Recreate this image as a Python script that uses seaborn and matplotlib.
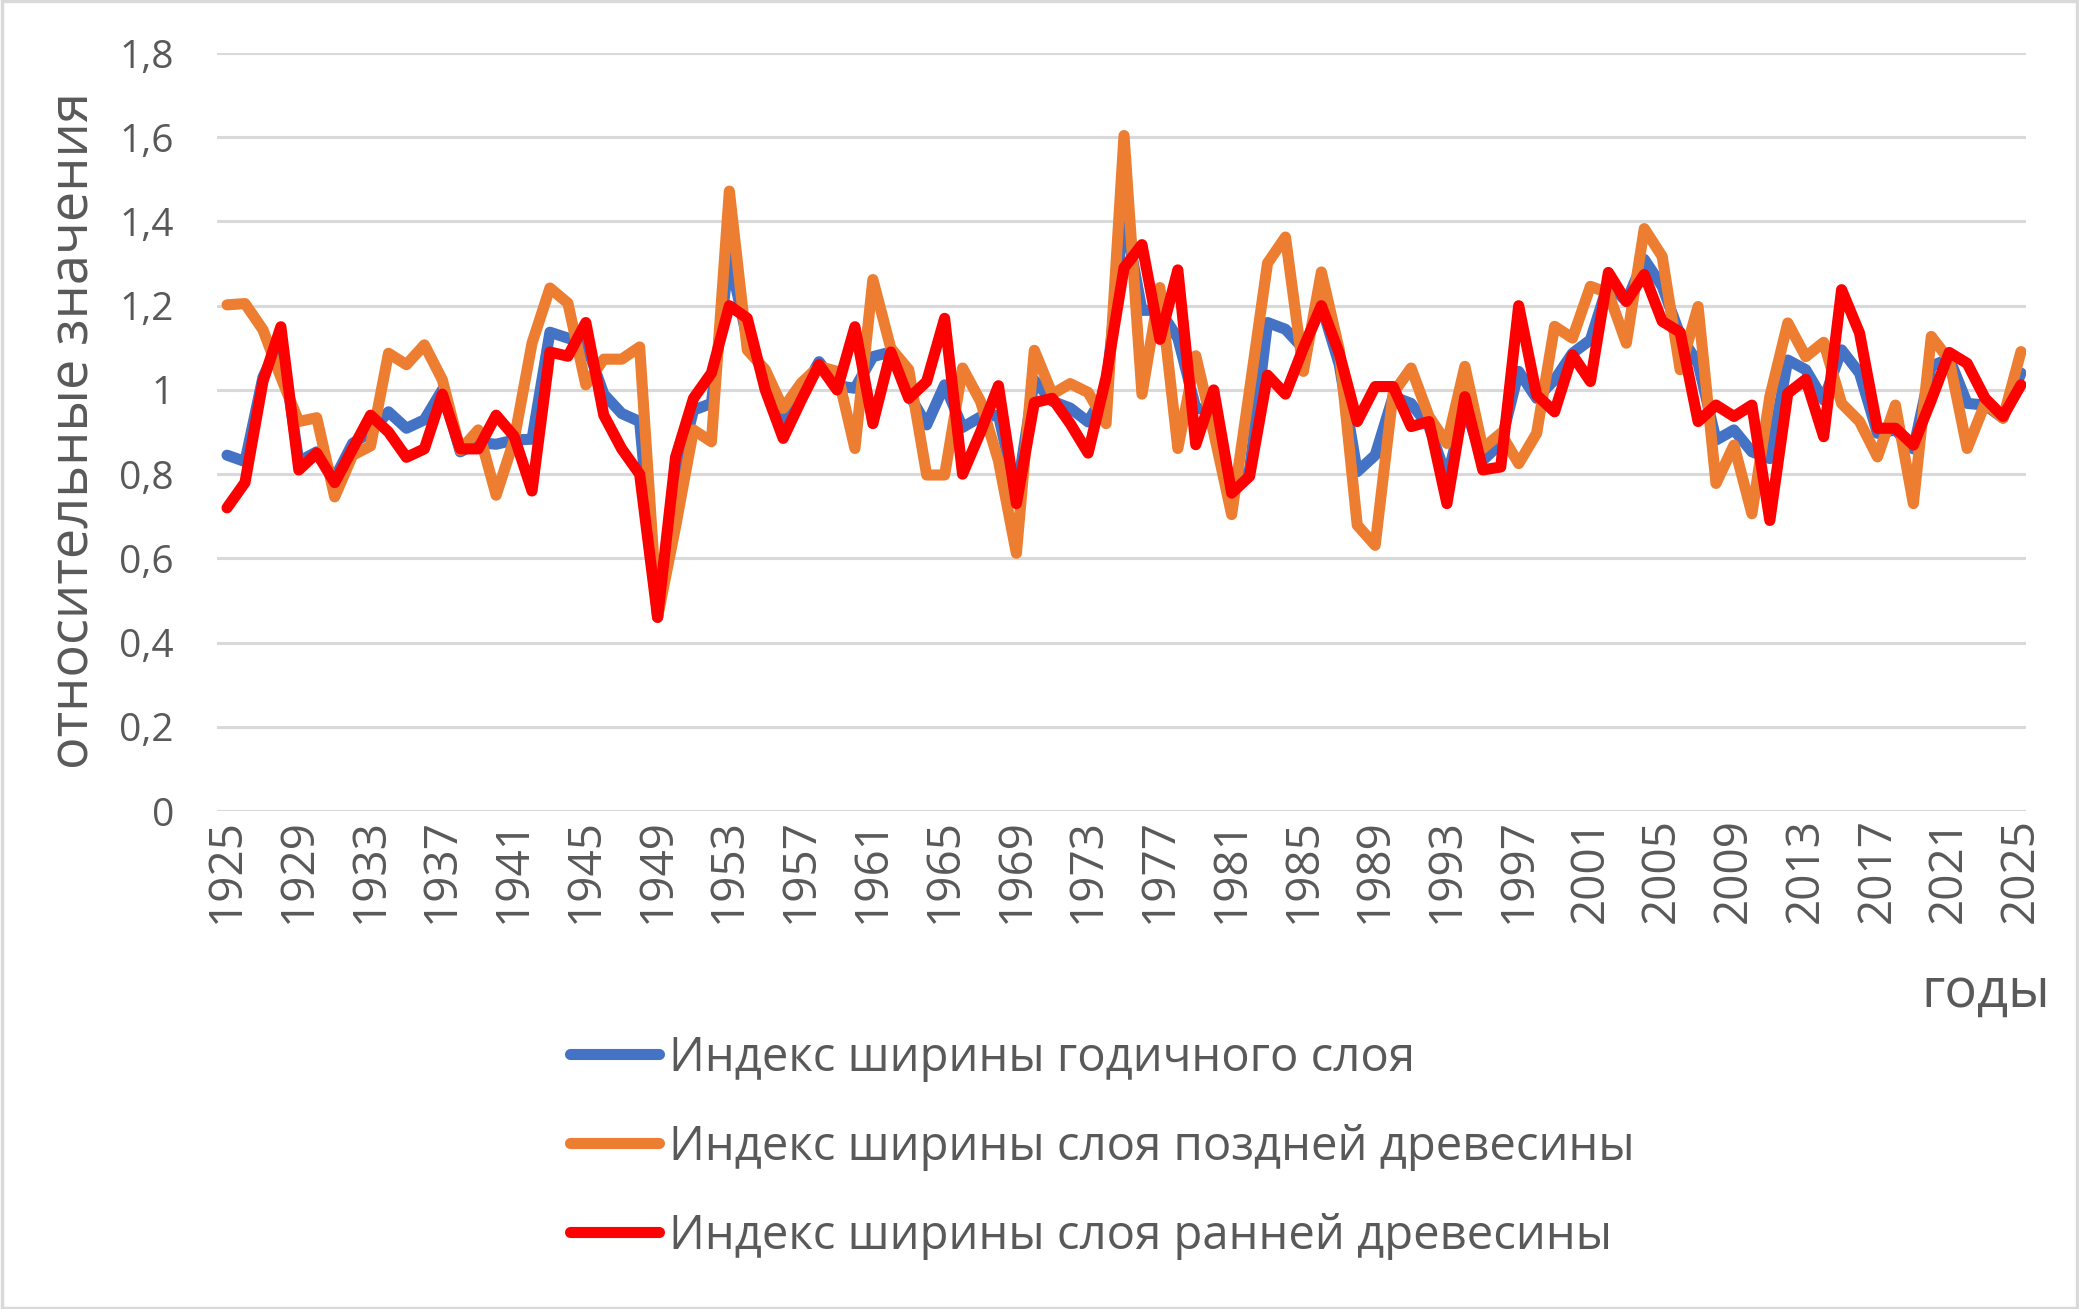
import numpy as np
import pandas as pd
import matplotlib
matplotlib.use("Agg")
import matplotlib.pyplot as plt
import seaborn as sns
from matplotlib.patches import Rectangle

years = list(range(1925, 2026))

# Индекс ширины годичного слоя
ring = [0.845, 0.83, 1.03, 1.12, 0.83, 0.853, 0.79, 0.873, 0.90, 0.948,
        0.909, 0.929, 1.00, 0.853, 0.875, 0.871, 0.881, 0.883, 1.137, 1.123,
        1.11, 0.99, 0.944, 0.925, 0.46, 0.78, 0.952, 0.968, 1.317, 1.12,
        1.03, 0.929, 0.99, 1.067, 1.01, 1.004, 1.079, 1.09, 0.99, 0.917,
        1.012, 0.911, 0.936, 0.94, 0.75, 1.023, 0.973, 0.957, 0.924, 1.00,
        1.42, 1.189, 1.189, 1.123, 0.957, 0.95, 0.76, 0.81, 1.16, 1.144,
        1.098, 1.20, 1.06, 0.806, 0.845, 0.984, 0.968, 0.913, 0.79, 0.96,
        0.833, 0.873, 1.044, 0.98, 1.024, 1.087, 1.119, 1.254, 1.21, 1.31,
        1.246, 1.13, 1.063, 0.881, 0.905, 0.853, 0.837, 1.071, 1.048, 0.976,
        1.095, 1.04, 0.897, 0.905, 0.86, 1.056, 1.075, 0.968, 0.964, 0.933,
        1.04]

# Индекс ширины слоя поздней древесины
late = [1.202, 1.205, 1.143, 1.03, 0.925, 0.934, 0.746, 0.845, 0.867, 1.087,
        1.06, 1.107, 1.024, 0.857, 0.905, 0.75, 0.881, 1.111, 1.242, 1.206,
        1.012, 1.073, 1.073, 1.102, 0.46, 0.675, 0.905, 0.877, 1.472, 1.095,
        1.048, 0.956, 1.016, 1.056, 1.044, 0.861, 1.262, 1.099, 1.048, 0.798,
        0.798, 1.052, 0.973, 0.832, 0.612, 1.094, 0.99, 1.015, 0.994, 0.92,
        1.604, 0.99, 1.243, 0.861, 1.081, 0.899, 0.704, 1.00, 1.301, 1.363,
        1.044, 1.28, 1.095, 0.679, 0.631, 0.992, 1.052, 0.937, 0.873, 1.056,
        0.861, 0.897, 0.825, 0.897, 1.151, 1.123, 1.246, 1.23, 1.111, 1.383,
        1.317, 1.048, 1.198, 0.778, 0.869, 0.706, 0.984, 1.159, 1.079, 1.113,
        0.968, 0.925, 0.841, 0.964, 0.73, 1.127, 1.071, 0.861, 0.968, 0.933,
        1.091]

# Индекс ширины слоя ранней древесины
early = [0.72, 0.78, 1.02, 1.15, 0.81, 0.85, 0.78, 0.86, 0.94, 0.90,
         0.84, 0.86, 0.99, 0.86, 0.86, 0.94, 0.89, 0.76, 1.09, 1.08,
         1.16, 0.94, 0.86, 0.80, 0.46, 0.84, 0.98, 1.04, 1.20, 1.17,
         1.00, 0.885, 0.975, 1.06, 1.00, 1.15, 0.92, 1.09, 0.98, 1.02,
         1.17, 0.80, 0.90, 1.01, 0.73, 0.97, 0.98, 0.92, 0.85, 1.03,
         1.29, 1.345, 1.12, 1.285, 0.87, 1.00, 0.755, 0.795, 1.035, 0.99,
         1.10, 1.20, 1.087, 0.925, 1.008, 1.008, 0.913, 0.925, 0.73, 0.984,
         0.81, 0.817, 1.20, 0.988, 0.948, 1.083, 1.02, 1.279, 1.21, 1.274,
         1.163, 1.137, 0.925, 0.964, 0.937, 0.964, 0.69, 0.992, 1.025, 0.889,
         1.238, 1.135, 0.909, 0.909, 0.869, 0.976, 1.089, 1.063, 0.98, 0.937,
         1.012]

series_labels = ["Индекс ширины годичного слоя",
                 "Индекс ширины слоя поздней древесины",
                 "Индекс ширины слоя ранней древесины"]
series_colors = ["#4472C4", "#ED7D31", "#FF0000"]

yticks = [0, 0.2, 0.4, 0.6, 0.8, 1.0, 1.2, 1.4, 1.6, 1.8]
ytick_labels = ["0", "0,2", "0,4", "0,6", "0,8", "1", "1,2", "1,4", "1,6", "1,8"]
xticks = list(range(1925, 2026, 4))
ylabel = "относительные значения"
xlabel = "годы"

df = pd.DataFrame({
    "год": years * 3,
    "значение": ring + late + early,
    "серия": [series_labels[0]] * len(years) + [series_labels[1]] * len(years)
             + [series_labels[2]] * len(years),
})

sns.set_style("white")
plt.rcParams["font.family"] = ["Open Sans", "DejaVu Sans"]
text_color = "#595959"

fig = plt.figure(figsize=(20.79, 13.09), dpi=100)
ax = fig.add_axes([0.1044, 0.3804, 0.8701, 0.5791])

sns.lineplot(data=df, x="год", y="значение", hue="серия",
             palette=dict(zip(series_labels, series_colors)),
             hue_order=series_labels, linewidth=8, estimator=None,
             sort=False, ax=ax, solid_joinstyle="round",
             solid_capstyle="round")

ax.set_ylim(0, 1.8)
ax.set_xlim(1925 - 10 / 17.94, 2025 + 5 / 17.94)
ax.set_yticks(yticks)
ax.set_yticklabels(ytick_labels)
ax.set_xticks(xticks)
ax.set_xticklabels([str(x) for x in xticks], rotation=90)
ax.tick_params(axis="y", length=0, pad=31, labelsize=28, labelcolor=text_color)
ax.tick_params(axis="x", length=0, pad=5, labelsize=33, labelcolor=text_color)
ax.yaxis.grid(True, color="#D9D9D9", linewidth=2.2)
ax.xaxis.grid(False)
ax.set_axisbelow(True)
for s in ax.spines.values():
    s.set_visible(False)
ax.set_xlabel("")
ax.set_ylabel("")

fig.text(74 / 2079, 1 - 431 / 1309, ylabel, rotation=90, ha="center",
         va="center", fontsize=39, color=text_color)
fig.text(2050 / 2079, 1 - 992 / 1309, xlabel, ha="right", va="center",
         fontsize=39, color=text_color)

handles, labels = ax.get_legend_handles_labels()
ax.get_legend().remove()
leg = fig.legend(handles, labels, loc="upper left",
                 bbox_to_anchor=(570 / 2079, 1 - 1034 / 1309),
                 frameon=False, fontsize=34, handlelength=1.88,
                 handletextpad=0.22, labelspacing=0.88, borderpad=0,
                 borderaxespad=0)
for t in leg.get_texts():
    t.set_color(text_color)
for h in leg.get_lines():
    h.set_linewidth(8)
    h.set_solid_capstyle("round")

fig.patches.append(Rectangle((0.001, 0.001), 0.998, 0.998,
                             transform=fig.transFigure, fill=False,
                             edgecolor="#D9D9D9", linewidth=2.5))

fig.savefig("out.png", dpi=100)
